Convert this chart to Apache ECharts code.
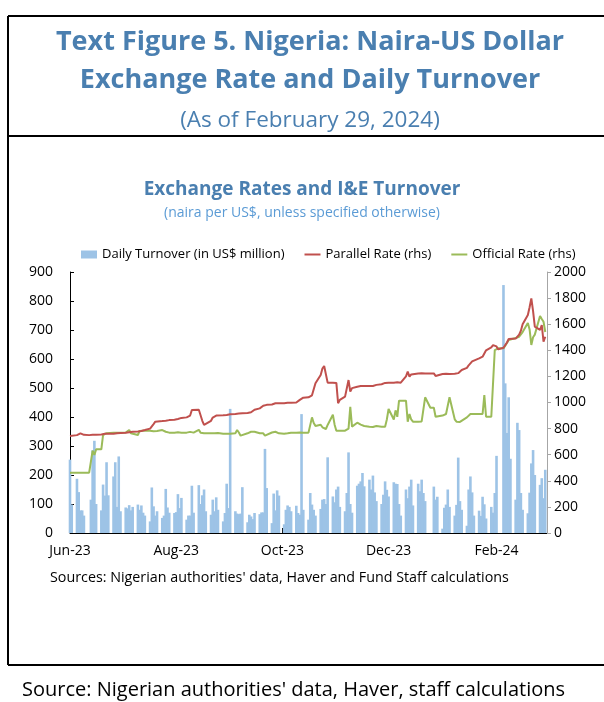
<!DOCTYPE html>
<html>
<head>
<meta charset="utf-8">
<style>
  html, body { margin: 0; padding: 0; background: #ffffff; }
  #chart { width: 604px; height: 702px; }
</style>
<script src="https://cdn.jsdelivr.net/npm/echarts@6/dist/echarts.min.js"></script>
</head>
<body>
<div id="chart"></div>
<script>
// Business days, 1 Jun 2023 - 29 Feb 2024
const dates = [
  '2023-06-01','2023-06-02',
  '2023-06-05','2023-06-06','2023-06-07','2023-06-08','2023-06-09',
  '2023-06-12','2023-06-13','2023-06-14','2023-06-15','2023-06-16',
  '2023-06-19','2023-06-20','2023-06-21','2023-06-22','2023-06-23',
  '2023-06-26','2023-06-27','2023-06-28','2023-06-29','2023-06-30',
  '2023-07-03','2023-07-04','2023-07-05','2023-07-06','2023-07-07',
  '2023-07-10','2023-07-11','2023-07-12','2023-07-13','2023-07-14',
  '2023-07-17','2023-07-18','2023-07-19','2023-07-20','2023-07-21',
  '2023-07-24','2023-07-25','2023-07-26','2023-07-27','2023-07-28',
  '2023-07-31','2023-08-01','2023-08-02','2023-08-03','2023-08-04',
  '2023-08-07','2023-08-08','2023-08-09','2023-08-10','2023-08-11',
  '2023-08-14','2023-08-15','2023-08-16','2023-08-17','2023-08-18',
  '2023-08-21','2023-08-22','2023-08-23','2023-08-24','2023-08-25',
  '2023-08-28','2023-08-29','2023-08-30','2023-08-31','2023-09-01',
  '2023-09-04','2023-09-05','2023-09-06','2023-09-07','2023-09-08',
  '2023-09-11','2023-09-12','2023-09-13','2023-09-14','2023-09-15',
  '2023-09-18','2023-09-19','2023-09-20','2023-09-21','2023-09-22',
  '2023-09-25','2023-09-26','2023-09-27','2023-09-28','2023-09-29',
  '2023-10-02','2023-10-03','2023-10-04','2023-10-05','2023-10-06',
  '2023-10-09','2023-10-10','2023-10-11','2023-10-12','2023-10-13',
  '2023-10-16','2023-10-17','2023-10-18','2023-10-19','2023-10-20',
  '2023-10-23','2023-10-24','2023-10-25','2023-10-26','2023-10-27',
  '2023-10-30','2023-10-31','2023-11-01','2023-11-02','2023-11-03',
  '2023-11-06','2023-11-07','2023-11-08','2023-11-09','2023-11-10',
  '2023-11-13','2023-11-14','2023-11-15','2023-11-16','2023-11-17',
  '2023-11-20','2023-11-21','2023-11-22','2023-11-23','2023-11-24',
  '2023-11-27','2023-11-28','2023-11-29','2023-11-30','2023-12-01',
  '2023-12-04','2023-12-05','2023-12-06','2023-12-07','2023-12-08',
  '2023-12-11','2023-12-12','2023-12-13','2023-12-14','2023-12-15',
  '2023-12-18','2023-12-19','2023-12-20','2023-12-21','2023-12-22',
  '2023-12-25','2023-12-26','2023-12-27','2023-12-28','2023-12-29',
  '2024-01-01','2024-01-02','2024-01-03','2024-01-04','2024-01-05',
  '2024-01-08','2024-01-09','2024-01-10','2024-01-11','2024-01-12',
  '2024-01-15','2024-01-16','2024-01-17','2024-01-18','2024-01-19',
  '2024-01-22','2024-01-23','2024-01-24','2024-01-25','2024-01-26',
  '2024-01-29','2024-01-30','2024-01-31','2024-02-01','2024-02-02',
  '2024-02-05','2024-02-06','2024-02-07','2024-02-08','2024-02-09',
  '2024-02-12','2024-02-13','2024-02-14','2024-02-15','2024-02-16',
  '2024-02-19','2024-02-20','2024-02-21','2024-02-22','2024-02-23',
  '2024-02-26','2024-02-27','2024-02-28','2024-02-29'
];

// I&E window daily turnover, US$ million (left axis)
const turnover = [
  253, 98,
  187, 141, 78, 78, 60,
  null, 115, 285, 318, 100,
  78, 167, 129, 244, 130,
  195, 244, 90, 264, 75,
  88, 85, 96, 78, 90,
  98, 80, 95, 70, 60,
  40, 157, 92, 60, 75,
  52, 60, 152, 88, 70,
  69, 72, 134, 86, 121,
  46, 60, 60, 163, 70,
  165, 100, 130, 150, 75,
  63, 115, 75, 123, 80,
  40, 69, 170, 86, 428,
  75, 67, 65, 67, 158,
  37, 63, 57, 48, 69,
  65, 71, 71, 290, 155,
  34, 136, 78, 147, 129,
  30, 80, 95, 90, 75,
  94, 69, 63, 410, 80,
  46, 138, 98, 80, 60,
  83, 115, 117, 100, 261,
  126, 106, 150, 160, 90,
  75, 138, 278, 100, 70,
  163, 170, 178, 207, 161,
  184, 150, 198, 140, 110,
  100, 132, 178, 149, 126,
  175, 170, 169, 100, 60,
  150, 120, 160, 184, 95,
  170, 144, 184, 138, 110,
  null, null, 160, 115, 125,
  15, 87, 98, 150, 90,
  60, 97, 260, 110, 80,
  25, 150, 195, 140, 60,
  77, 59, 125, 99, 50,
  90, 70, 138, 266, null,
  855, 516, 345, 468, 256,
  115, 380, 355, 138, 80,
  68, 139, 240, 286, 200,
  166, 189, 120, 218
];

// Parallel market rate, naira per US$ (right axis)
const parallelRate = [
  743, 745,
  750, 762, 764, 758, 752,
  750, 750, 752, 752, 752,
  755, 757, 760, 760, 760,
  760, 762, 764, 765, 766,
  768, 770, 772, 772, 775,
  778, 780, 782, 785, 789,
  800, 815, 835, 853, 855,
  858, 860, 861, 862, 865,
  868, 870, 874, 878, 882,
  886, 890, 900, 943, 945,
  945, 943, 860, 828, 835,
  860, 885, 895, 900, 902,
  902, 905, 905, 908, 910,
  912, 912, 915, 915, 918,
  920, 920, 925, 935, 945,
  955, 965, 975, 980, 982,
  985, 990, 994, 995, 995,
  995, 996, 998, 999, 999,
  1000, 1005, 1020, 1030, 1037,
  1040, 1045, 1055, 1070, 1147,
  1211, 1260, 1280, 1280, 1152,
  1152, 1152, 1150, 994, 1020,
  1045, 1045, 1172, 1083, 1110,
  1121, 1126, 1126, 1126, 1126,
  1126, 1128, 1126, 1130, 1135,
  1140, 1147, 1150, 1140, 1152,
  1152, 1152, 1155, 1152, 1152,
  1200, 1236, 1198, 1215, 1223,
  1223, 1220, 1225, 1223, 1223,
  1223, 1223, 1223, 1203, 1215,
  1218, 1218, 1220, 1218, 1218,
  1220, 1218, 1225, 1240, 1249,
  1265, 1285, 1300, 1315, 1330,
  1338, 1345, 1351, 1365, 1400,
  1423, 1440, 1453, 1430, 1407,
  1420, 1433, 1460, 1487, 1490,
  1490, 1492, 1520, 1550, 1600,
  1670, 1730, 1798, 1700, 1581,
  1556, 1594, 1466, 1504
];

// Official (I&E) rate, naira per US$ (right axis)
const officialRate = [
  462, 462,
  462, 462, 462, 462, 462,
  462, 462, 631, 598, 641,
  641, 751, 758, 765, 769,
  769, 770, 769, 770, 769,
  770, 775, 789, 764, 776,
  751, 782, 784, 784, 780,
  784, 782, 780, 784, 782,
  789, 784, 776, 772, 769,
  769, 769, 772, 769, 769,
  769, 772, 775, 772, 769,
  790, 769, 764, 764, 764,
  764, 764, 764, 764, 766,
  760, 756, 760, 746, 760,
  765, 789, 770, 746, 760,
  764, 766, 776, 776, 776,
  764, 764, 764, 746, 760,
  770, 780, 776, 770, 764,
  760, 756, 764, 766, 769,
  768, 769, 770, 769, 769,
  769, 770, 886, 843, 820,
  830, 810, 800, 797, 828,
  906, 830, 784, 784, 784,
  784, 790, 800, 966, 815,
  845, 835, 830, 815, 820,
  815, 815, 812, 815, 820,
  815, 815, 815, 870, 950,
  870, 940, 890, 1014, 1014,
  1014, 853, 912, 870, 853,
  853, 853, 855, 860, 1040,
  960, 960, 960, 891, 891,
  900, 904, 912, 920, 1040,
  871, 853, 853, 851, 853,
  886, 900, 912, 912, 912,
  912, 915, 912, 1057, 891,
  891, 891, 1402, 1410, 1415,
  1415, 1415, 1456, 1479, 1494,
  1494, 1500, 1504, 1517, 1540,
  1609, 1560, 1441, 1500, 1520,
  1663, 1640, 1619, 1540
];

const seriesNames = ['Daily Turnover (in US$ million)', 'Parallel Rate (rhs)', 'Official Rate (rhs)'];
const leftTicks = { min: 0, max: 900, step: 100 };
const rightTicks = { min: 0, max: 2000, step: 200 };
const monthTickDates = ['2023-06-01', '2023-08-01', '2023-10-01', '2023-12-01', '2024-02-01'];
const axisRange = ['2023-06-01', '2024-03-01'];
const monthNames = ['Jan','Feb','Mar','Apr','May','Jun','Jul','Aug','Sep','Oct','Nov','Dec'];

// calendar date string -> local-midnight timestamp
const ts = (s) => {
  const [y, m, d] = s.split('-').map(Number);
  return new Date(y, m - 1, d).getTime();
};
const tickValues = monthTickDates.map(ts);
const pairs = (vals) => vals.map((v, i) => [ts(dates[i]), v]);

const TITLE_BLUE = '#4a7fb0';
const SUB_BLUE = '#5b9bd5';
const FONT = '"Open Sans", "Noto Sans", sans-serif';
const LINE_ICON = 'path://M0,0H16V2H0Z';

const chart = echarts.init(document.getElementById('chart'), null, { renderer: 'canvas' });

chart.setOption({
  backgroundColor: '#ffffff',
  animation: false,
  textStyle: { fontFamily: FONT },
  graphic: [
    // frame rules
    { type: 'line', shape: { x1: 8, y1: 16, x2: 604, y2: 16 }, style: { stroke: '#000', lineWidth: 2 } },
    { type: 'line', shape: { x1: 8, y1: 136, x2: 604, y2: 136 }, style: { stroke: '#000', lineWidth: 2 } },
    { type: 'line', shape: { x1: 8, y1: 665, x2: 604, y2: 665 }, style: { stroke: '#000', lineWidth: 2 } },
    { type: 'line', shape: { x1: 8, y1: 16, x2: 8, y2: 665 }, style: { stroke: '#000', lineWidth: 2 } },
    // headings
    { type: 'text', x: 310, y: 42, style: { text: 'Text Figure 5. Nigeria: Naira-US Dollar', fill: TITLE_BLUE,
      font: 'bold 27px ' + FONT, textAlign: 'center', textVerticalAlign: 'middle' } },
    { type: 'text', x: 310, y: 80, style: { text: 'Exchange Rate and Daily Turnover', fill: TITLE_BLUE,
      font: 'bold 27px ' + FONT, textAlign: 'center', textVerticalAlign: 'middle' } },
    { type: 'text', x: 310, y: 121, style: { text: '(As of February 29, 2024)', fill: TITLE_BLUE,
      font: '22.5px ' + FONT, textAlign: 'center', textVerticalAlign: 'middle' } },
    { type: 'text', x: 302, y: 190, style: { text: 'Exchange Rates and I&E Turnover', fill: TITLE_BLUE,
      font: 'bold 19px ' + FONT, textAlign: 'center', textVerticalAlign: 'middle' } },
    { type: 'text', x: 302, y: 213, style: { text: '(naira per US$, unless specified otherwise)', fill: SUB_BLUE,
      font: '14px ' + FONT, textAlign: 'center', textVerticalAlign: 'middle' } },
    { type: 'text', x: 50, y: 578, style: { text: "Sources: Nigerian authorities' data, Haver and Fund Staff calculations", fill: '#000',
      font: '14.3px ' + FONT, textAlign: 'left', textVerticalAlign: 'middle' } },
    { type: 'text', x: 22, y: 690, style: { text: "Source: Nigerian authorities' data, Haver, staff calculations", fill: '#000',
      font: '20px ' + FONT, textAlign: 'left', textVerticalAlign: 'middle' } }
  ],
  legend: {
    top: 243,
    left: 76,
    itemWidth: 16,
    itemHeight: 8,
    itemGap: 20,
    textStyle: { fontSize: 13, color: '#000', fontFamily: FONT },
    data: [
      { name: seriesNames[0], icon: 'rect' },
      { name: seriesNames[1], icon: LINE_ICON },
      { name: seriesNames[2], icon: LINE_ICON }
    ]
  },
  grid: { left: 70, right: 57, top: 272, bottom: 169, containLabel: false },
  xAxis: {
    type: 'value',
    min: ts(axisRange[0]),
    max: ts(axisRange[1]),
    axisLine: { lineStyle: { color: '#000', width: 1 } },
    axisTick: { show: true, inside: true, length: 5, customValues: tickValues, lineStyle: { color: '#000' } },
    axisLabel: {
      customValues: tickValues,
      fontSize: 14, color: '#000', margin: 11, fontFamily: FONT,
      formatter: (val) => {
        const d = new Date(val);
        return monthNames[d.getMonth()] + '-' + String(d.getFullYear()).slice(2);
      }
    },
    splitLine: { show: false }
  },
  yAxis: [
    {
      type: 'value', min: leftTicks.min, max: leftTicks.max, interval: leftTicks.step,
      axisLine: { show: true, lineStyle: { color: '#000' } },
      axisTick: { show: true, inside: true, length: 4, lineStyle: { color: '#000' } },
      axisLabel: { fontSize: 14, color: '#000', margin: 17, fontFamily: FONT },
      splitLine: { show: false }
    },
    {
      type: 'value', min: rightTicks.min, max: rightTicks.max, interval: rightTicks.step,
      position: 'right',
      axisLine: { show: true, lineStyle: { color: '#a6a6a6' } },
      axisTick: { show: true, inside: false, length: 4, lineStyle: { color: '#a6a6a6' } },
      axisLabel: { fontSize: 14, color: '#000', margin: 7, fontFamily: FONT, formatter: (v) => String(v) },
      splitLine: { show: false }
    }
  ],
  series: [
    {
      name: seriesNames[0], type: 'bar', yAxisIndex: 0,
      data: pairs(turnover),
      barWidth: 2.6,
      itemStyle: { color: '#9dc3e6' },
      z: 1
    },
    {
      name: seriesNames[1], type: 'line', yAxisIndex: 1,
      data: pairs(parallelRate),
      symbol: 'none', showSymbol: false,
      lineStyle: { color: '#c0504d', width: 2 },
      itemStyle: { color: '#c0504d' },
      z: 3
    },
    {
      name: seriesNames[2], type: 'line', yAxisIndex: 1,
      data: pairs(officialRate),
      symbol: 'none', showSymbol: false,
      lineStyle: { color: '#9bbb59', width: 2 },
      itemStyle: { color: '#9bbb59' },
      z: 2
    }
  ]
});
</script>
</body>
</html>
